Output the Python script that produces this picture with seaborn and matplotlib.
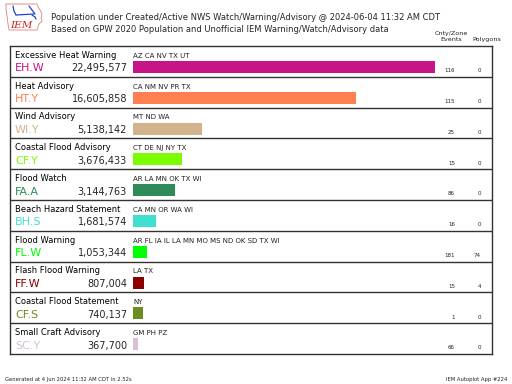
import matplotlib
matplotlib.use("Agg")
import matplotlib.pyplot as plt
import seaborn as sns
import pandas as pd

# data
names = ["Excessive Heat Warning", "Heat Advisory", "Wind Advisory", "Coastal Flood Advisory",
         "Flood Watch", "Beach Hazard Statement", "Flood Warning", "Flash Flood Warning",
         "Coastal Flood Statement", "Small Craft Advisory"]
codes = ["EH.W", "HT.Y", "WI.Y", "CF.Y", "FA.A", "BH.S", "FL.W", "FF.W", "CF.S", "SC.Y"]
population = [22495577, 16605858, 5138142, 3676433, 3144763, 1681574, 1053344, 807004, 740137, 367700]
states = ["AZ CA NV TX UT", "CA NM NV PR TX", "MT ND WA", "CT DE NJ NY TX", "AR LA MN OK TX WI",
          "CA MN OR WA WI", "AR FL IA IL LA MN MO MS ND OK SD TX WI", "LA TX", "NY", "GM PH PZ"]
events = [116, 115, 25, 15, 86, 16, 181, 15, 1, 66]
polygons = [0, 0, 0, 0, 0, 0, 74, 4, 0, 0]

colors = ["#C71585", "#FF7F50", "#D2B48C", "#7CFC00", "#2E8B57",
          "#40E0D0", "#00FF00", "#8B0000", "#6B8E23", "#D8BFD8"]

df = pd.DataFrame({"code": codes, "pop": population})

sns.set_style("white")
plt.rcParams["font.family"] = ["DejaVu Sans"]

W, H = 512, 384
fig = plt.figure(figsize=(W / 100, H / 100), dpi=100)


def px(x, y, w, h):
    return [x / W, 1 - (y + h) / H, w / W, h / H]


# frame with the rows
ax = fig.add_axes(px(10, 46, 482, 308))
ax.set_xlim(0, 482)
ax.set_ylim(10, 0)
ax.set_xticks([])
ax.set_yticks([])
for s in ax.spines.values():
    s.set_color("#333333")
    s.set_linewidth(1)
for i in range(1, 10):
    ax.axhline(i, color="#333333", lw=1)

# bars
bax = fig.add_axes(px(133, 46, 302, 308))
sns.barplot(data=df, x="pop", y="code", hue="code", palette=colors, orient="h",
            width=0.39, legend=False, ax=bax, saturation=1, linewidth=0)
bax.set_xlim(0, max(population))
bax.set_ylim(9.32, -0.68)
bax.axis("off")
bax.patch.set_alpha(0)

for i in range(len(names)):
    ax.text(5, i + 0.30, names[i], fontsize=6, va="center", ha="left", color="black")
    ax.text(5, i + 0.73, codes[i], fontsize=8, va="center", ha="left", color=colors[i])
    ax.text(117, i + 0.73, f"{population[i]:,}", fontsize=7, va="center", ha="right")
    ax.text(123, i + 0.32, states[i], fontsize=5, va="center", ha="left", color="#222222")
    ax.text(445, i + 0.80, str(events[i]), fontsize=4, va="center", ha="right", color="#222222")
    ax.text(471, i + 0.80, str(polygons[i]), fontsize=4, va="center", ha="right", color="#222222")

# titles
fig.text(51 / W, 1 - 17.5 / H,
         "Population under Created/Active NWS Watch/Warning/Advisory @ 2024-06-04 11:32 AM CDT",
         fontsize=6.05, va="center", ha="left")
fig.text(51 / W, 1 - 30 / H,
         "Based on GPW 2020 Population and Unofficial IEM Warning/Watch/Advisory data",
         fontsize=6.05, va="center", ha="left")
fig.text(451 / W, 1 - 36.5 / H, "Cnty/Zone\nEvents", fontsize=4.6, va="center", ha="center",
         linespacing=1.1, color="#222222")
fig.text(487 / W, 1 - 40 / H, "Polygons", fontsize=4.6, va="center", ha="center", color="#222222")

# footer
fig.text(5 / W, 1 - 379 / H, "Generated at 4 Jun 2024 11:32 AM CDT in 2.52s",
         fontsize=3.8, va="center", ha="left", color="#222222")
fig.text(507 / W, 1 - 379 / H, "IEM Autoplot App #224",
         fontsize=3.8, va="center", ha="right", color="#222222")

# simple IEM logo
lax = fig.add_axes(px(4, 2, 40, 30))
lax.set_xlim(0, 40)
lax.set_ylim(30, 0)
lax.axis("off")
outline_x = [2, 33, 34, 36, 38, 37, 38, 35, 34, 33, 5, 4, 3, 2, 2]
outline_y = [2, 2, 5, 8, 12, 16, 19, 22, 25, 28, 28, 22, 14, 7, 2]
lax.plot(outline_x, outline_y, color="#e08080", lw=0.6)
lax.plot([9, 10, 12], [4, 9, 13], color="#2244cc", lw=0.9)
lax.plot([12, 30], [13, 12], color="#2244cc", lw=0.9)
lax.plot([25, 28, 31], [4, 8, 12], color="#2244cc", lw=0.9)
lax.plot([28, 31, 32], [13, 15, 17], color="#2244cc", lw=0.9)
lax.text(6, 23, "IEM", fontsize=7.5, fontstyle="italic", family="DejaVu Serif",
         color="#cc2222", va="center", ha="left")

fig.savefig("out.png", dpi=100)
